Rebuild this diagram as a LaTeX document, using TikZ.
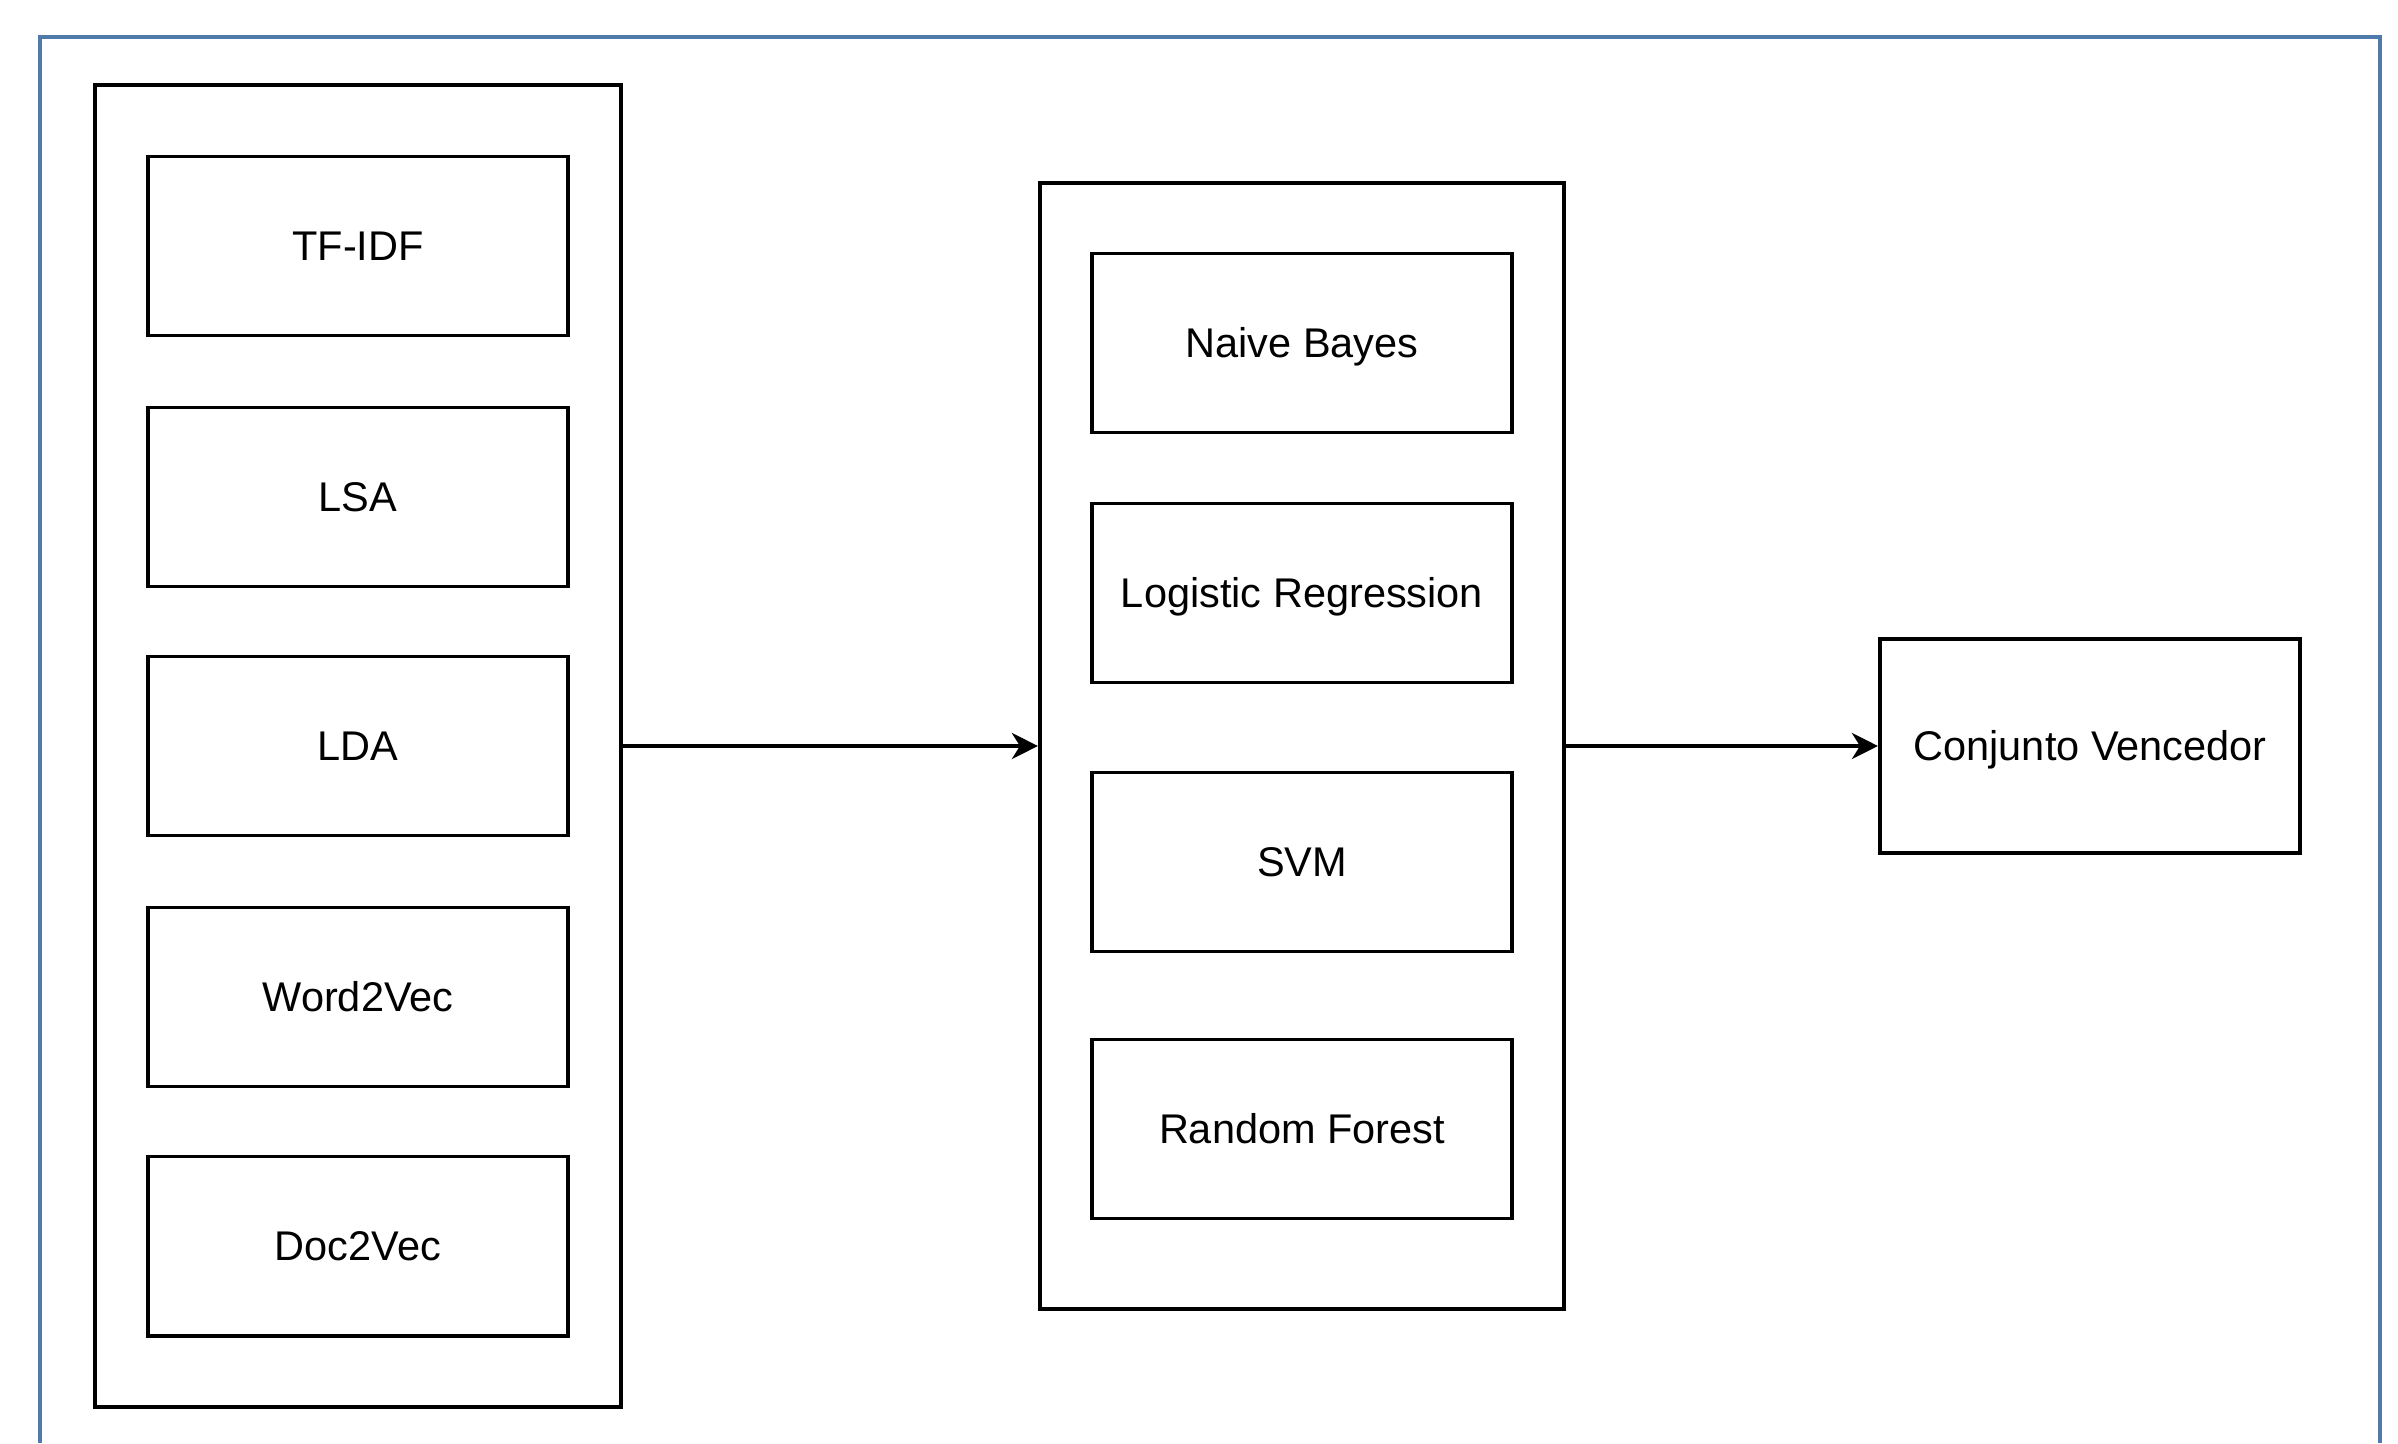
\documentclass[tikz,border=0pt]{standalone}
\usepackage{fontspec}
\setmainfont{Liberation Sans}
\usepackage{xcolor}
\usetikzlibrary{arrows.meta}
\definecolor{frameblue}{HTML}{4E7BAA}

\begin{document}
\begin{tikzpicture}[x=0.01cm,y=-0.01cm,
  box/.style={draw,line width=1.1pt,minimum width=4.2cm,minimum height=1.79cm,
    text height=0.8em,text depth=0pt,font=\fontsize{11.8}{14}\selectfont},
  group/.style={draw,line width=1.1pt},
  link/.style={line width=1.1pt,-{Stealth[length=0.26cm,width=0.26cm,inset=0.08cm]}}]
  \useasboundingbox (0,0) rectangle (2398,1443);
  \draw[frameblue,line width=1.3pt] (40,1443) -- (40,37) -- (2380,37) -- (2380,1443);
  % feature extraction
  \node[group,minimum width=5.26cm,minimum height=13.21cm] (feat) at (358,746) {};
  \node[box] (tfidf) at (358,246) {TF-IDF};
  \node[box] (lsa) at (358,497) {LSA};
  \node[box] (lda) at (358,746) {LDA};
  \node[box] (wvec) at (358,997) {Word2Vec};
  \node[box] (dvec) at (358,1246) {Doc2Vec};
  % classifiers
  \node[group,minimum width=5.24cm,minimum height=11.26cm] (clf) at (1302,746) {};
  \node[box] (nb) at (1302,343) {Naive Bayes};
  \node[box] (lr) at (1302,593) {Logistic Regression};
  \node[box] (svm) at (1302,862) {SVM};
  \node[box] (rf) at (1302,1129) {Random Forest};
  % result
  \node[box,minimum height=2.14cm] (win) at (2090,746) {Conjunto Vencedor};
  \draw[link] (feat) -- (clf);
  \draw[link] (clf) -- (win);
\end{tikzpicture}
\end{document}
